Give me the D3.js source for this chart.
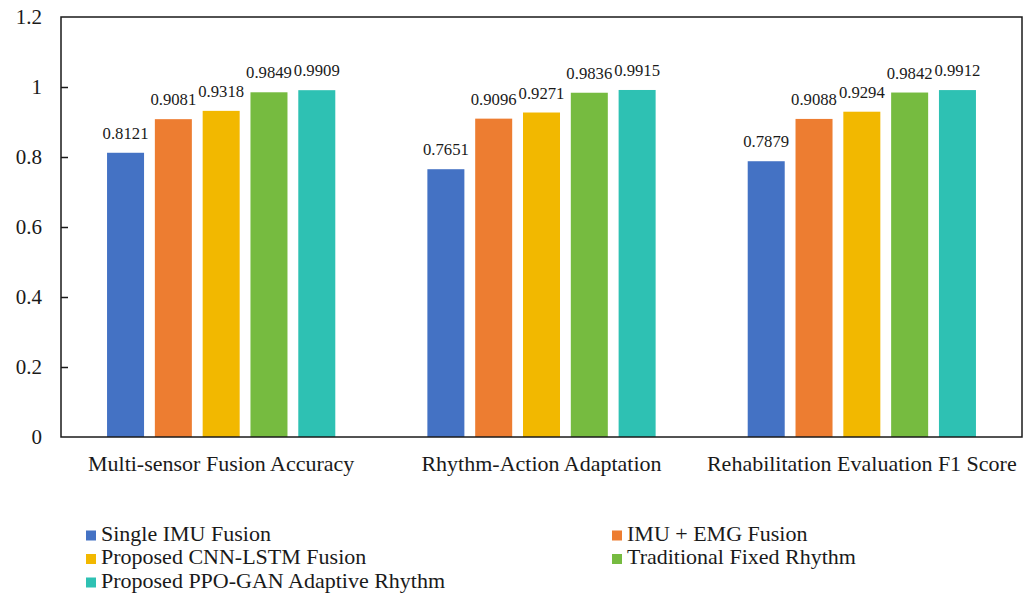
<!DOCTYPE html>
<html>
<head>
<meta charset="utf-8">
<script src="https://cdn.jsdelivr.net/npm/d3@7"></script>
<style>
  html, body { margin: 0; padding: 0; background: #fff; }
  svg { display: block; }
  text { font-family: "Liberation Serif", "Times New Roman", serif; fill: #1a1a1a; }
</style>
</head>
<body>
<svg id="chart" width="1029" height="594"></svg>
<script>
// Metric groups along the x axis
const categories = ["Multi-sensor Fusion Accuracy", "Rhythm-Action Adaptation", "Rehabilitation Evaluation F1 Score"];
// Methods compared in each group
const seriesNames = ["Single IMU Fusion", "IMU + EMG Fusion", "Proposed CNN-LSTM Fusion", "Traditional Fixed Rhythm", "Proposed PPO-GAN Adaptive Rhythm"];
const seriesColors = ["#4472C4", "#ED7D31", "#F2B800", "#76BB40", "#2EC1B3"];
// Scores per method, one value per category
const singleIMU    = [0.8121, 0.7651, 0.7879];
const imuEmg       = [0.9081, 0.9096, 0.9088];
const cnnLstm      = [0.9318, 0.9271, 0.9294];
const fixedRhythm  = [0.9849, 0.9836, 0.9842];
const ppoGan       = [0.9909, 0.9915, 0.9912];
const yTicks = [0, 0.2, 0.4, 0.6, 0.8, 1, 1.2];

const seriesValues = [singleIMU, imuEmg, cnnLstm, fixedRhythm, ppoGan];

const serif = "'Liberation Serif', 'Times New Roman', serif";
const svg = d3.select("#chart");
const plot = { left: 61, right: 1022, top: 17, bottom: 437 };

const x0 = d3.scaleBand().domain(categories).range([plot.left, plot.right]).paddingInner(0).paddingOuter(0);
const x1 = d3.scaleBand().domain(seriesNames).range([0, x0.bandwidth()]).paddingInner(0.226).paddingOuter(0.963);
const y = d3.scaleLinear().domain([0, 1.2]).range([plot.bottom, plot.top]);

// Bars
const groups = svg.append("g").selectAll("g")
  .data(categories)
  .join("g")
  .attr("transform", d => `translate(${x0(d)},0)`);

const cells = (c, ci) => seriesNames.map((s, si) => ({ s, si, v: seriesValues[si][ci] }));

groups.selectAll("rect")
  .data(cells)
  .join("rect")
  .attr("x", d => x1(d.s))
  .attr("width", x1.bandwidth())
  .attr("y", d => y(d.v))
  .attr("height", d => y(0) - y(d.v))
  .attr("fill", d => seriesColors[d.si]);

// Value labels
groups.selectAll("text.val")
  .data(cells)
  .join("text")
  .attr("class", "val")
  .attr("x", d => x1(d.s) + x1.bandwidth() / 2)
  .attr("y", d => y(d.v) - 14)
  .attr("text-anchor", "middle")
  .style("font-size", "16.7px")
  .text(d => d.v.toFixed(4));

// Plot frame
svg.append("rect")
  .attr("x", plot.left).attr("y", plot.top)
  .attr("width", plot.right - plot.left).attr("height", plot.bottom - plot.top)
  .attr("fill", "none").attr("stroke", "#1a1a1a").attr("stroke-width", 1.5);

// Y axis with inward ticks
const yAxis = d3.axisLeft(y).tickValues(yTicks).tickSize(-7).tickPadding(19).tickFormat(d => String(d));
const yg = svg.append("g").attr("transform", `translate(${plot.left},0)`).call(yAxis);
yg.select(".domain").remove();
yg.selectAll(".tick line").attr("stroke", "#1a1a1a").attr("stroke-width", 1.5);
yg.selectAll(".tick text").style("font-size", "21px").attr("fill", "#1a1a1a").style("font-family", serif);
yg.selectAll(".tick").filter(d => d === 1.2 || d === 0).select("line").remove();

// Category labels
const xAxis = d3.axisBottom(x0).tickSize(0).tickPadding(18);
const xg = svg.append("g").attr("transform", `translate(0,${plot.bottom})`).call(xAxis);
xg.select(".domain").remove();
xg.selectAll(".tick text").style("font-size", "22px").attr("fill", "#1a1a1a").style("font-family", serif);

// Legend: two columns
const legendCols = [86, 612];
const legendRows = [540.5, 564, 587.5];
const legend = svg.append("g").selectAll("g")
  .data(seriesNames)
  .join("g")
  .attr("transform", (d, i) => `translate(${legendCols[i % 2]},${legendRows[Math.floor(i / 2)]})`);
legend.append("rect")
  .attr("x", 0).attr("y", -10).attr("width", 10).attr("height", 10)
  .attr("fill", (d, i) => seriesColors[i]);
legend.append("text")
  .attr("x", 15).attr("y", 0)
  .style("font-size", "22px")
  .text(d => d);
</script>
</body>
</html>
